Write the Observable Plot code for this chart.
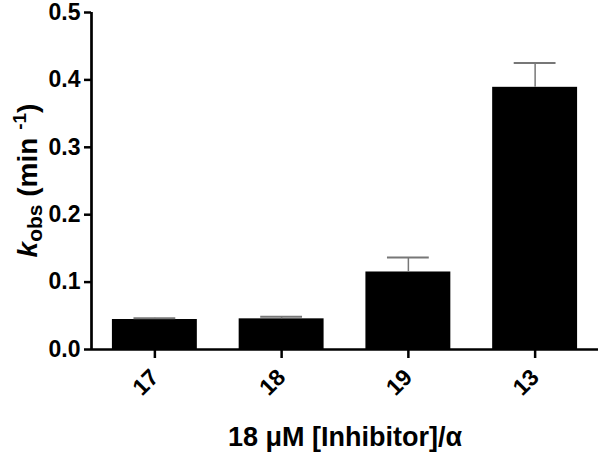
<!DOCTYPE html>
<html>
<head>
<meta charset="utf-8">
<script src="https://cdn.jsdelivr.net/npm/d3@7"></script>
<script src="https://cdn.jsdelivr.net/npm/@observablehq/plot@0.6"></script>
<style>
  body { margin: 0; background: #fff; }
</style>
</head>
<body>
<div id="chart"></div>
<script>
// Data
const categories = ["17", "18", "19", "13"];
const kobs = [0.0445, 0.0455, 0.115, 0.389];
const errUpper = [0.0465, 0.0485, 0.1365, 0.425];
const yTicks = [0.0, 0.1, 0.2, 0.3, 0.4, 0.5];
const xTitle = "18 \u03BCM [Inhibitor]/\u03B1";

const data = categories.map((c, i) => ({i, cat: c, value: kobs[i], hi: errUpper[i]}));

const halfBar = 0.335;
const halfCap = 0.165;
const font = "'Liberation Sans', Arial, sans-serif";

const chart = Plot.plot({
  width: 600,
  height: 455,
  marginLeft: 91,
  marginRight: 2,
  marginTop: 12,
  marginBottom: 106,
  style: {fontFamily: font, fontSize: "23px", fontWeight: "bold", background: "#fff", color: "#000"},
  x: {type: "linear", domain: [-0.5, 3.5]},
  y: {domain: [0, 0.5]},
  marks: [
    Plot.rectY(data, {x1: d => d.i - halfBar, x2: d => d.i + halfBar, y: "value", fill: "#000"}),
    Plot.ruleX(data, {x: "i", y1: "value", y2: "hi", stroke: "#777", strokeWidth: 1.5}),
    Plot.ruleY(data, {x1: d => d.i - halfCap, x2: d => d.i + halfCap, y: "hi", stroke: "#777", strokeWidth: 2}),
    Plot.ruleY([0], {stroke: "#000", strokeWidth: 2.7}),
    Plot.ruleX([-0.5], {y1: 0, y2: 0.5, stroke: "#000", strokeWidth: 2.7}),
    Plot.axisY({ticks: yTicks, tickFormat: d3.format(".1f"), tickSize: 7, tickPadding: 4, strokeWidth: 2.5, label: null, fontSize: 23, fontWeight: "bold"}),
    Plot.axisX({ticks: [0, 1, 2, 3], tickFormat: i => categories[i], tickSize: 9, tickPadding: 15, tickRotate: -45, strokeWidth: 2.5, label: null, fontSize: 23, fontWeight: "bold"}),
    Plot.text([xTitle], {frameAnchor: "bottom", dy: 88, lineAnchor: "middle", fontSize: 27, fontWeight: "bold"})
  ]
});

document.getElementById("chart").appendChild(chart);

// Y-axis title with subscript/superscript
const svg = d3.select(chart);
const yScale = chart.scale("y");
const yMid = (yScale.range[0] + yScale.range[1]) / 2;
const t = svg.append("text")
  .attr("transform", `translate(37,${yMid}) rotate(-90)`)
  .attr("text-anchor", "middle")
  .attr("font-family", font)
  .attr("font-weight", "bold")
  .attr("font-size", 28)
  .attr("fill", "#000");
t.append("tspan").attr("font-style", "italic").text("k");
t.append("tspan").attr("font-size", 21).attr("dy", 5).text("obs");
t.append("tspan").attr("dy", -5).text(" (min ");
t.append("tspan").attr("font-size", 19).attr("dy", -11).text("-1");
t.append("tspan").attr("dy", 11).text(")");
</script>
</body>
</html>
